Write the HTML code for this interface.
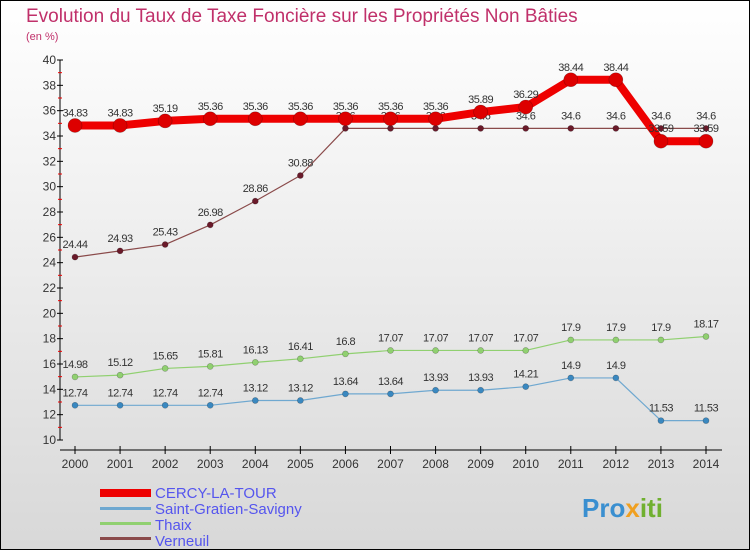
<!DOCTYPE html>
<html><head><meta charset="utf-8"><style>
body{margin:0;width:750px;height:550px;overflow:hidden;font-family:"Liberation Sans",sans-serif}
svg{display:block}
</style></head><body>
<svg id="c" width="750" height="550">
<defs><linearGradient id="bg" x1="0" y1="0" x2="0" y2="1"><stop offset="0" stop-color="#ffffff"/><stop offset="1" stop-color="#d8d8d8"/></linearGradient></defs>
<rect x="0.5" y="0.5" width="749" height="549" fill="url(#bg)" stroke="#000"/>
<text x="26" y="22" font-size="19" fill="#c0306a">Evolution du Taux de Taxe Foncière sur les Propriétés Non Bâties</text>
<text x="26" y="40" font-size="11" fill="#c0306a">(en %)</text>
<g id="axes"></g><g id="series"></g>
<g>
<rect x="100" y="489" width="51" height="8" fill="#ee0000"/>
<text x="155" y="498" font-size="15" fill="#5555ee">CERCY-LA-TOUR</text>
<rect x="100" y="507" width="51" height="3" fill="#6fa8d0"/>
<text x="155" y="514" font-size="15" fill="#5555ee">Saint-Gratien-Savigny</text>
<rect x="100" y="522" width="51" height="3" fill="#90d070"/>
<text x="155" y="530" font-size="15" fill="#5555ee">Thaix</text>
<rect x="100" y="537" width="51" height="3" fill="#8a4a4a"/>
<text x="155" y="546" font-size="15" fill="#5555ee">Verneuil</text>
</g>
<text x="582" y="517" font-size="26" font-weight="bold" fill="#3a8fd0">Pro<tspan fill="#f0a020">x</tspan><tspan fill="#70b030">iti</tspan></text>
</svg>
<script>
const years=[2000,2001,2002,2003,2004,2005,2006,2007,2008,2009,2010,2011,2012,2013,2014];
const cercy=[34.83,34.83,35.19,35.36,35.36,35.36,35.36,35.36,35.36,35.89,36.29,38.44,38.44,33.59,33.59];
const saint=[12.74,12.74,12.74,12.74,13.12,13.12,13.64,13.64,13.93,13.93,14.21,14.9,14.9,11.53,11.53];
const thaix=[14.98,15.12,15.65,15.81,16.13,16.41,16.8,17.07,17.07,17.07,17.07,17.9,17.9,17.9,18.17];
const verneuil=[24.44,24.93,25.43,26.98,28.86,30.88,34.6,34.6,34.6,34.6,34.6,34.6,34.6,34.6,34.6];
const yTicks=[10,12,14,16,18,20,22,24,26,28,30,32,34,36,38,40];
const NS='http://www.w3.org/2000/svg';
const xs=i=>75+i*(631/14), ys=v=>440-(v-10)*(380/30);
function mk(t,a,p){const e=document.createElementNS(NS,t);for(const k in a)e.setAttribute(k,a[k]);p.appendChild(e);return e;}
const ax=document.getElementById('axes'), sg=document.getElementById('series');
let yl=mk('line',{x1:60,y1:60,x2:60,y2:440,stroke:'#000'},ax);


let xl=mk('line',{x1:60,y1:450,x2:722,y2:450,stroke:'#000'},ax);


yTicks.forEach(v=>{const y=ys(v);mk('line',{x1:57,y1:y,x2:63,y2:y,stroke:'#000'},ax);
 if(v<40)mk('line',{x1:58,y1:ys(v+1),x2:62,y2:ys(v+1),stroke:'#e00'},ax);
 const t=mk('text',{x:56,y:y+4,'font-size':12,fill:'#333','text-anchor':'end'},ax);t.textContent=v;
 
 });
years.forEach((yr,i)=>{const x=xs(i);mk('line',{x1:x,y1:446,x2:x,y2:454,stroke:'#000'},ax);
 const t=mk('text',{x:x,y:468,'font-size':12,fill:'#333','text-anchor':'middle'},ax);t.textContent=yr;
 
 });
function series(name,vals,color,lw,r,dot,fs){const g=mk('g',{},sg);
 
 
 mk('polyline',{points:vals.map((v,i)=>xs(i)+','+ys(v)).join(' '),fill:'none',stroke:color,'stroke-width':lw,'stroke-linejoin':'round'},g);
 vals.forEach((v,i)=>{const c=mk('circle',{cx:xs(i),cy:ys(v),r:r,fill:dot,stroke:'rgba(0,0,0,0.3)','stroke-width':0.6},g);
  
  
  const t=mk('text',{x:xs(i),y:ys(v)-9,'font-size':fs,fill:'#333','text-anchor':'middle','letter-spacing':'-0.5'},g);t.textContent=v;
  
  });}
series('verneuil',verneuil,'#8a4a4a',1.2,3,'#6a1a2a',11);
series('thaix',thaix,'#90d070',1.2,3,'#90d070',11);
series('saint-gratien',saint,'#6fa8d0',1.2,3,'#3a88c0',11);
series('cercy',cercy,'#ee0000',8,7,'#dd0000',11);
</script>
</body></html>
